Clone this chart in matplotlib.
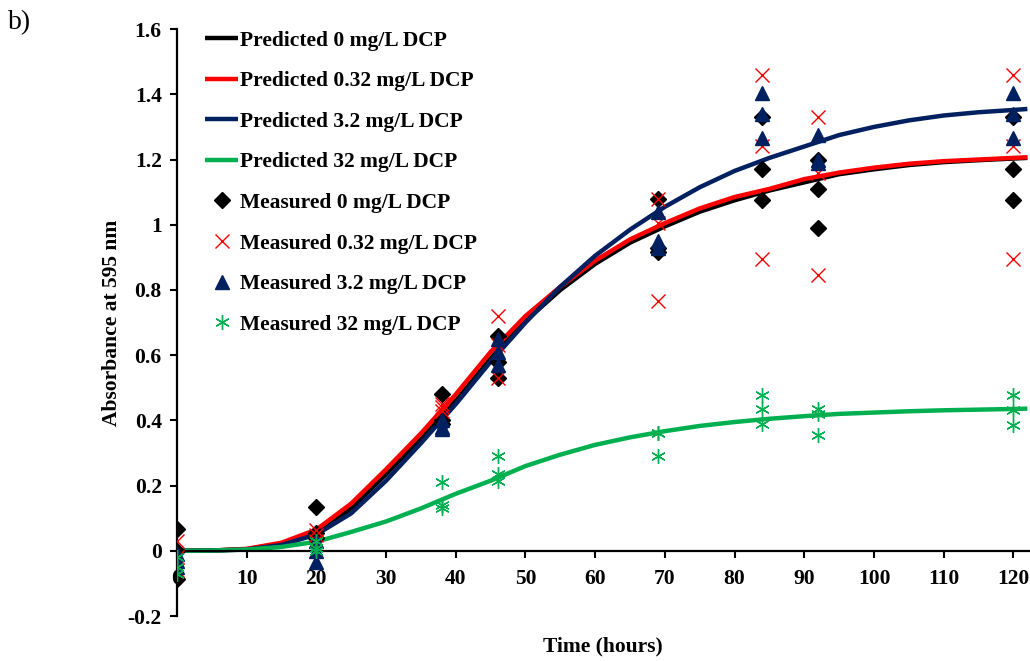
import numpy as np
import matplotlib
matplotlib.use('Agg')
import matplotlib.pyplot as plt

plt.rcParams['font.family'] = ['Liberation Serif', 'DejaVu Serif']
plt.rcParams['font.weight'] = 'bold'

# model curves
t_pred = [0, 5, 10, 15, 20, 25, 30, 35, 40, 45, 50, 55, 60, 65, 70, 75, 80, 85,
          90, 95, 100, 105, 110, 115, 120, 122]
pred_0 = [0, 0.001, 0.005, 0.022, 0.058, 0.13, 0.235, 0.345, 0.46, 0.59, 0.705, 0.8,
          0.88, 0.945, 0.995, 1.04, 1.075, 1.105, 1.13, 1.155, 1.17, 1.183, 1.192,
          1.198, 1.203, 1.205]
pred_032 = [0, 0.001, 0.006, 0.025, 0.065, 0.145, 0.25, 0.36, 0.48, 0.61, 0.72, 0.81,
            0.89, 0.955, 1.005, 1.05, 1.085, 1.11, 1.14, 1.16, 1.175, 1.187, 1.195,
            1.2, 1.205, 1.207]
pred_32_ = [0, 0.001, 0.004, 0.018, 0.05, 0.115, 0.215, 0.33, 0.45, 0.58, 0.70, 0.81,
            0.905, 0.985, 1.055, 1.115, 1.165, 1.205, 1.24, 1.275, 1.3, 1.32, 1.335,
            1.345, 1.352, 1.355]
pred_32 = [0, 0.001, 0.004, 0.012, 0.028, 0.058, 0.09, 0.13, 0.175, 0.215, 0.26, 0.295,
           0.325, 0.348, 0.367, 0.383, 0.395, 0.405, 0.413, 0.42, 0.424, 0.428, 0.431,
           0.433, 0.435, 0.436]

# measured replicates (3 per time point)
t_meas = [0, 20, 38, 46, 69, 84, 92, 120]
meas_0 = [[0.067, 0.0, -0.085], [0.135, 0.055, 0.04], [0.48, 0.40, 0.39],
          [0.66, 0.58, 0.53], [1.08, 0.93, 0.915], [1.33, 1.17, 1.075],
          [1.20, 1.11, 0.99], [1.33, 1.17, 1.075]]
meas_032 = [[0.03, -0.02, -0.06], [0.065, 0.05, 0.03], [0.45, 0.44, 0.43],
            [0.72, 0.63, 0.53], [1.08, 1.005, 0.765], [1.46, 1.24, 0.895],
            [1.33, 1.16, 0.845], [1.46, 1.24, 0.895]]
meas_32_ = [[-0.01, -0.03, -0.05], [0.03, 0.0, -0.035], [0.40, 0.38, 0.375],
            [0.65, 0.61, 0.57], [1.04, 0.95, 0.93], [1.405, 1.34, 1.265],
            [1.275, 1.20, 1.19], [1.405, 1.34, 1.265]]
meas_32 = [[-0.02, -0.05, -0.07], [0.03, 0.01, 0.0], [0.21, 0.14, 0.13],
           [0.29, 0.235, 0.215], [0.36, 0.36, 0.29], [0.478, 0.435, 0.39],
           [0.435, 0.42, 0.355], [0.478, 0.432, 0.387]]

labels_pred = ['Predicted 0 mg/L DCP', 'Predicted 0.32 mg/L DCP',
               'Predicted 3.2 mg/L DCP', 'Predicted 32 mg/L DCP']
labels_meas = ['Measured 0 mg/L DCP', 'Measured 0.32 mg/L DCP',
               'Measured 3.2 mg/L DCP', 'Measured 32 mg/L DCP']

colors = ['#000000', '#FF0000', '#002060', '#00B050']
fs = 15.5

fig = plt.figure(figsize=(10.30, 6.61), dpi=100)
ax = fig.add_axes([0.1718, 0.068, 0.827, 0.888])

for y, c, lab in zip([pred_0, pred_032, pred_32_, pred_32], colors, labels_pred):
    ax.plot(t_pred, y, color=c, lw=3.2, label=lab, zorder=2, solid_capstyle='butt')

def scatter(data, **kw):
    xs = [t for t, reps in zip(t_meas, data) for _ in reps]
    ys = [v for reps in data for v in reps]
    ax.plot(xs, ys, ls='none', zorder=3, **kw)

scatter(meas_0, marker='D', ms=8, color='#000000', label=labels_meas[0])
scatter(meas_032, marker='x', ms=9.5, mew=1, color='#FF0000', label=labels_meas[1])
scatter(meas_32_, marker='^', ms=10, color='#002060', label=labels_meas[2])
scatter(meas_32, marker=(6, 2, 0), ms=10.5, mew=1, color='#00B050', label=labels_meas[3])

ax.set_xlim(0, 122.2)
ax.set_ylim(-0.2, 1.6)
ax.set_xticks(np.arange(0, 121, 10))
yt = np.round(np.arange(-0.2, 1.61, 0.2), 1)
ax.set_yticks(yt)
ax.set_yticklabels(['%g' % v for v in yt])

ax.spines['top'].set_visible(False)
ax.spines['right'].set_visible(False)
ax.spines['bottom'].set_position(('data', 0))
for s in ['left', 'bottom']:
    ax.spines[s].set_linewidth(1.6)
ax.tick_params(axis='both', direction='out', length=5, width=1.5, labelsize=fs)
ax.tick_params(axis='x', pad=8)
ax.tick_params(axis='y', pad=6)

ax.set_xlabel('Time (hours)', fontsize=fs, fontweight='bold')
ax.xaxis.set_label_coords(0.5, -0.035)
ax.set_ylabel('Absorbance at 595 nm', fontsize=fs, fontweight='bold')
ax.yaxis.set_label_coords(-0.064, 0.5)

ax.legend(loc='upper left', bbox_to_anchor=(0.033, 0.997), frameon=False,
          handlelength=1.53, handletextpad=0.1,
          labelspacing=0.95, borderpad=0, borderaxespad=0,
          prop={'weight': 'bold', 'size': fs})

fig.text(0.008, 0.985, 'b)', fontsize=20, fontweight='normal', va='top')

fig.savefig('out.png', dpi=100)
